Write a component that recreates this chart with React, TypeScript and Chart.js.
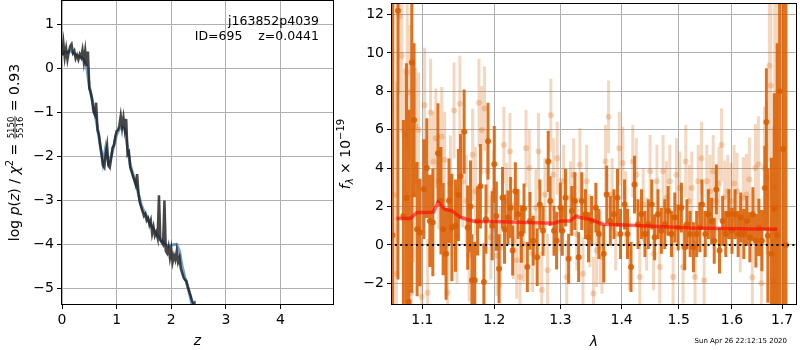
import React, { useEffect, useRef } from "react";
import { Chart, registerables } from "chart.js";
Chart.register(...registerables);

const FAM = "'DejaVu Sans', 'Liberation Sans', sans-serif";

// ---------- left panel: log p(z) ----------
const zGrid = [0,0.025,0.05,0.075,0.1,0.125,0.15,0.175,0.2,0.225,0.25,0.275,0.3,0.325,0.35,0.375,0.4,0.425,0.45,0.475,0.5,0.525,0.55,0.575,0.6,0.625,0.65,0.675,0.7,0.725,0.75,0.775,0.8,0.825,0.85,0.875,0.9,0.925,0.95,0.975,1,1.025,1.05,1.075,1.1,1.125,1.15,1.175,1.2,1.225,1.25,1.275,1.3,1.325,1.35,1.375,1.4,1.425,1.45,1.475,1.5,1.525,1.55,1.575,1.6,1.625,1.65,1.675,1.7,1.725,1.75,1.775,1.8,1.825,1.85,1.875,1.9,1.925,1.95,1.975,2,2.025,2.05,2.075,2.1,2.125,2.15,2.175,2.2,2.225,2.25,2.275,2.3,2.325,2.35,2.375,2.4,2.425,2.45];
const logPz = [
  0.30,0.58,0.25,0.45,0.20,0.38,0.50,0.55,0.35,0.40,
  0.22,0.30,0.20,0.32,0.25,0.42,0.15,0.40,0.05,0.38,
  -0.45,-0.55,-0.70,-0.98,-1.05,-0.78,-1.40,-1.50,-1.75,-1.95,
  -2.20,-2.25,-1.95,-1.75,-2.20,-2.25,-2.05,-1.80,-1.75,-1.55,
  -1.42,-1.40,-1.30,-1.08,-1.35,-1.12,-1.38,-1.15,-1.95,-1.90,
  -2.25,-2.35,-2.45,-2.55,-2.65,-2.40,-2.85,-3.05,-3.15,-3.25,
  -3.35,-3.30,-3.45,-3.40,-3.55,-3.45,-3.75,-3.60,-3.80,-3.72,
  -3.85,-2.88,-3.90,-3.95,-4.00,-3.00,-4.15,-4.20,-4.05,-4.30,
  -4.10,-4.40,-4.25,-4.35,-4.15,-4.40,-4.30,-4.55,-4.65,-4.75,
  -4.80,-4.82,-4.95,-5.05,-5.15,-5.25,-5.34,-5.32,-5.60
];
const zSmooth = [0,0.05,0.1,0.15,0.2,0.25,0.3,0.35,0.4,0.45,0.5,0.55,0.6,0.65,0.7,0.75,0.8,0.85,0.9,0.95,1,1.05,1.1,1.15,1.2,1.25,1.3,1.35,1.4,1.45,1.5,1.55,1.6,1.65,1.7,1.75,1.8,1.85,1.9,1.95,2,2.05,2.1,2.15,2.2,2.25,2.3,2.35,2.4,2.45];
const logPzSmooth = [
  0.30,0.38,0.36,0.40,0.36,0.30,0.28,0.25,0.20,0.05,
  -0.40,-0.70,-1.00,-1.35,-1.75,-2.15,-1.80,-2.15,-2.00,-1.75,
  -1.50,-1.38,-1.33,-1.38,-1.80,-2.20,-2.40,-2.60,-2.85,-3.10,
  -3.25,-3.35,-3.50,-3.60,-3.70,-3.80,-3.88,-3.95,-4.00,-4.05,
  -4.02,-4.00,-4.00,-4.15,-4.50,-4.75,-4.95,-5.20,-5.50,-5.80
];
const zTicks = [0, 1, 2, 3, 4];
const logPTicks = [-5, -4, -3, -2, -1, 0, 1];

// ---------- right panel: spectrum ----------
const lamBin = [
  1.061,1.068,1.075,1.079,1.082,1.086,1.089,1.093,1.097,1.102,
  1.106,1.110,1.114,1.121,1.125,1.128,1.132,1.136,1.140,1.145,
  1.149,1.152,1.157,1.162,1.166,1.168,1.172,1.176,1.180,1.185,
  1.188,1.191,1.197,1.200,1.203,1.207,1.212,1.215,1.220,1.224,
  1.227,1.231,1.235,1.240,1.244,1.249,1.253,1.258,1.264,1.268,
  1.273,1.281,1.284,1.290,1.294,1.300,1.303,1.308,1.313,1.318,
  1.323,1.329,1.334,1.340,1.345,1.350,1.357,1.362,1.370,1.375,
  1.381,1.387,1.393,1.398,1.405,1.410,1.416,1.422,1.428,1.434,
  1.440,1.446,1.452,1.457,1.463,1.469,1.475,1.481,1.487,1.493,
  1.499,1.505,1.511,1.515,1.521,1.527,1.533,1.539,1.543,1.549,
  1.555,1.561,1.566,1.570,1.576,1.582,1.588,1.594,1.600,1.606,
  1.612,1.617,1.623,1.629,1.635,1.641,1.647,1.653,1.659,1.665,
  1.668,1.671,1.678,1.684,1.690,1.695,1.702,1.708
];
const fluxBin = [
  0.5,12.2,1.5,2.46,-2.96,9.5,6.5,0.82,0.65,2.9,
  4.0,1.25,1.17,4.78,2.3,0.82,-0.46,2.3,0.9,1.0,
  2.6,3.58,5.9,0.9,2.0,-1.84,-1.84,1.25,3.05,-1.93,
  1.34,5.4,1.0,4.2,1.5,-1.24,2.46,0.82,1.43,1.94,
  -0.29,2.8,1.6,0.57,1.9,-1.15,1.25,0.22,-0.64,2.1,
  0.74,4.35,2.28,0.74,0.22,1.94,0.74,2.46,-0.72,1.77,
  2.28,-0.64,2.28,1.6,0.4,1.25,1.94,0.57,-0.46,2.63,
  1.25,1.6,2.46,0.57,2.1,0.57,-1.15,3.14,1.08,1.6,
  0.57,1.08,2.1,0.4,1.6,0.74,1.08,1.77,0.57,1.43,
  0.91,1.94,-0.12,1.08,0.57,-0.12,0.57,0.91,2.1,0.57,
  1.6,1.25,0.22,2.89,-0.29,1.25,0.57,1.6,0.74,1.6,
  0.57,1.43,0.57,1.25,0.4,1.6,0.22,0.91,0.22,2.97,
  6.4,0.48,-0.46,1.9,0.5,8,5,0
];
const errBin = [
  20,14,5,7,10,12,4,3.5,2.8,2.6,
  2.6,2.4,2.8,2.6,2.8,2.4,2.4,2.2,2.8,2.4,
  2.4,2.2,2.2,2.2,2.4,2.4,2,1.8,2.2,2,
  1.8,2,1.8,2,1.8,1.8,1.6,1.8,1.4,1.6,
  1.3,1.5,1.3,1.5,1.3,1.3,1.5,1.3,1.5,1.3,
  1.3,1.6,1.3,1.3,1.5,1.3,1.3,1.5,1.3,1.3,
  1.5,1.3,1.5,1.3,1.3,1.3,1.3,1.3,1.5,1.5,
  1.3,1.3,1.5,1.3,1.3,1.3,1.3,1.5,1.3,1.3,
  1.2,1.3,1.3,1.2,1.3,1.2,1.3,1.3,1.2,1.3,
  1.2,1.3,1.2,1.3,1.2,1.3,1.2,1.3,1.3,1.2,
  1.3,1.2,1.2,1.3,1.2,1.3,1.2,1.3,1.2,1.3,
  1.2,1.3,1.3,1.3,1.3,1.4,1.4,1.5,1.6,2.2,
  2.8,3.5,5,6,10,20,25,30
];
const lamExp = [
  1.063,1.066,1.070,1.073,1.077,1.080,1.083,1.085,1.088,1.091,
  1.095,1.099,1.103,1.107,1.111,1.115,1.118,1.122,1.126,1.130,
  1.134,1.138,1.143,1.147,1.151,1.155,1.160,1.164,1.169,1.173,
  1.178,1.182,1.186,1.190,1.195,1.199,1.204,1.209,1.214,1.218,
  1.223,1.228,1.233,1.238,1.243,1.247,1.252,1.257,1.262,1.266,
  1.271,1.276,1.280,1.285,1.289,1.295,1.299,1.305,1.310,1.316,
  1.321,1.326,1.331,1.336,1.342,1.347,1.353,1.358,1.364,1.367,
  1.373,1.378,1.384,1.390,1.396,1.402,1.407,1.413,1.419,1.425,
  1.431,1.437,1.443,1.449,1.455,1.461,1.466,1.472,1.478,1.484,
  1.490,1.496,1.502,1.508,1.513,1.519,1.524,1.530,1.536,1.542,
  1.547,1.552,1.558,1.564,1.570,1.575,1.580,1.586,1.592,1.598,
  1.604,1.610,1.616,1.622,1.628,1.634,1.640,1.646,1.652,1.658,
  1.664,1.669,1.674,1.677,1.681,1.685,1.690
];
const fluxExp = [
  2.6,-1.5,11.9,9.85,5.72,9.0,7.96,-2.5,2.6,6.2,
  5.98,-2.7,7.27,-2.5,6.9,4.35,5.55,3.3,5.63,4.43,
  -2.5,3.2,7.0,0.5,7.35,3.3,2.28,-0.55,4.7,2.8,
  7.4,5.98,7.1,3.83,0.4,2.8,-0.55,-0.12,5.2,2.28,
  4.87,0.22,-0.8,-1.67,0.05,5.03,4.0,-0.46,1.94,4.87,
  -2.35,2.63,-1.32,6.75,3.66,4.52,1.6,3.32,-1.67,2.46,
  3.66,0.57,4.18,-1.5,3.32,0.74,-2.53,-0.29,-0.12,-0.64,
  4.35,6.67,2.63,0.57,5.03,4.26,1.94,-0.46,4.35,3.66,
  -1.67,2.1,0.57,3.83,-0.46,3.32,-1.15,3.83,2.46,3.32,
  -1.67,3.66,2.97,-1.15,4.35,2.28,2.97,-1.67,3.32,4.52,
  -1.84,3.32,2.8,3.83,2.28,3.2,5.2,2.5,2.8,2.28,
  3.2,2.8,0.57,2.46,2.63,3.4,-1.7,4.0,4.2,-2.0,
  4.0,3.5,9.33,8.3,-1.84,3.0,2.0
];
const errExp = [
  15,10,4,4,3.5,4,3.5,4,3.5,3,
  3,3,3,2.8,2.8,2.6,2.6,2.5,2.6,2.5,
  2.6,2.5,2.5,2.5,2.5,2.4,2.4,2.4,2.4,2.3,
  2.3,2.3,2.2,2.2,2.2,2.1,2.1,2.1,2.0,2.0,
  2.0,2.0,2.0,2.0,2.0,2.0,2.0,2.0,2.0,2.0,
  2.0,1.9,1.9,1.9,1.9,1.9,1.9,1.9,1.9,1.9,
  1.9,1.9,1.9,1.9,1.9,1.9,1.9,1.9,1.9,1.9,
  1.9,1.9,1.9,1.9,1.9,1.9,1.9,1.9,1.9,1.9,
  1.9,1.9,1.9,1.9,1.9,1.9,1.9,1.9,1.9,1.9,
  1.9,1.9,1.9,1.9,1.9,1.9,1.9,1.9,1.9,1.9,
  1.9,1.9,1.9,1.9,1.9,1.9,1.9,1.9,1.9,2.0,
  2.0,2.0,2.0,2.1,2.1,2.2,2.2,2.3,2.5,2.7,
  3.2,4,5,6,8,12,15
];
const lamModel = [1.066,1.084,1.093,1.110,1.115,1.121,1.130,1.140,1.152,1.163,1.172,1.201,1.249,1.290,1.300,1.315,1.325,1.331,1.347,1.368,1.395,1.434,1.463,1.522,1.581,1.643,1.690];
const fluxModel = [1.37,1.37,1.69,1.69,1.72,2.23,1.86,1.77,1.43,1.31,1.22,1.22,1.17,1.13,1.24,1.24,1.5,1.43,1.34,1.08,1.05,1.0,0.96,0.88,0.86,0.83,0.81];
const lamZero = [1.064, 1.7289];
const lamTicks = [1.1, 1.2, 1.3, 1.4, 1.5, 1.6, 1.7];
const fluxTicks = [-2, 0, 2, 4, 6, 8, 10, 12];

const objName = "j163852p4039";
const objInfo = "ID=695    z=0.0441";
const timeStamp = "Sun Apr 26 22:12:15 2020";

// ---------- helpers ----------
const fmt = (v: number) => (v < 0 ? "\u2212" + Math.abs(v) : String(v));
const setTicks = (vals: number[]) => (scale: any) => {
  scale.ticks = vals.map((v) => ({ value: v }));
};
const errSeg = (lam: number[], f: number[], e: number[]) =>
  lam.flatMap((x, i) => [
    { x, y: f[i] - e[i] },
    { x, y: f[i] + e[i] },
    { x, y: null as any },
  ]);

type Part = { t?: string; font: string; dy?: number; num?: string; den?: string };

function partWidth(ctx: CanvasRenderingContext2D, p: Part) {
  ctx.font = p.font;
  if (p.num !== undefined) {
    return Math.max(ctx.measureText(p.num).width, ctx.measureText(p.den || "").width) + 2;
  }
  return ctx.measureText(p.t || "").width;
}

function drawRotatedRich(ctx: CanvasRenderingContext2D, parts: Part[], bx: number, cy: number) {
  const widths = parts.map((p) => partWidth(ctx, p));
  const total = widths.reduce((a, b) => a + b, 0);
  ctx.save();
  ctx.translate(bx, cy);
  ctx.rotate(-Math.PI / 2);
  ctx.fillStyle = "#000";
  ctx.textBaseline = "alphabetic";
  let x = -total / 2;
  parts.forEach((p, i) => {
    const w = widths[i];
    ctx.font = p.font;
    if (p.num !== undefined) {
      ctx.textAlign = "center";
      ctx.fillText(p.num, x + w / 2, -5);
      ctx.fillText(p.den || "", x + w / 2, 4.8);
      ctx.fillRect(x + 0.5, -3.9, w - 1, 0.8);
    } else {
      ctx.textAlign = "left";
      ctx.fillText(p.t || "", x, p.dy || 0);
    }
    x += w;
  });
  ctx.restore();
}

function drawFrame(chart: any) {
  const { ctx, chartArea: a } = chart;
  ctx.save();
  ctx.strokeStyle = "#000";
  ctx.lineWidth = 1;
  ctx.strokeRect(Math.round(a.left) - 0.5, Math.round(a.top) - 0.5, Math.round(a.right - a.left) + 1, Math.round(a.bottom - a.top) + 1);
  ctx.restore();
}

const gridOpts = { color: "#b0b0b0", lineWidth: 1, tickColor: "#000", tickLength: 5, tickWidth: 1 };
const tickFont = { family: FAM, size: 14 };
const fitX = (h: number) => (s: any) => { s.height = h; s.paddingLeft = 0; s.paddingRight = 0; };
const fitY = (w: number) => (s: any) => { s.width = w; s.paddingTop = 0; s.paddingBottom = 0; };

const leftDeco = {
  id: "leftDeco",
  afterDraw(chart: any) {
    const { ctx, chartArea: a } = chart;
    drawFrame(chart);
    ctx.save();
    ctx.fillStyle = "#000";
    ctx.font = `12.5px ${FAM}`;
    ctx.textAlign = "right";
    ctx.textBaseline = "alphabetic";
    ctx.fillText(objName, 319, 25);
    ctx.fillText(objInfo, 319, 39.5);
    ctx.font = `italic 14px ${FAM}`;
    ctx.textAlign = "center";
    ctx.fillText("z", (a.left + a.right) / 2, 345);
    ctx.restore();
    const n = `14px ${FAM}`;
    const it = `italic 14px ${FAM}`;
    drawRotatedRich(ctx, [
      { t: "log ", font: n },
      { t: "p", font: it },
      { t: "(", font: n },
      { t: "z", font: it },
      { t: ")", font: n },
      { t: " / ", font: n },
      { t: "\u03c7", font: it },
      { t: "2", font: `10px ${FAM}`, dy: -5.5 },
      { t: " = ", font: n },
      { num: "5150", den: "5516", font: `8.5px ${FAM}` },
      { t: " = 0.93", font: n },
    ], 18.5, (a.top + a.bottom) / 2);
  },
};

const rightDeco = {
  id: "rightDeco",
  afterDraw(chart: any) {
    const { ctx, chartArea: a } = chart;
    drawFrame(chart);
    ctx.save();
    ctx.fillStyle = "#000";
    ctx.font = `italic 14px ${FAM}`;
    ctx.textAlign = "center";
    ctx.textBaseline = "alphabetic";
    ctx.fillText("\u03bb", (a.left + a.right) / 2, 346);
    ctx.font = `7px ${FAM}`;
    ctx.textAlign = "right";
    ctx.fillText(timeStamp, 452, 343);
    ctx.restore();
    drawRotatedRich(ctx, [
      { t: "f", font: `italic 14px ${FAM}` },
      { t: "\u03bb", font: `italic 10px ${FAM}`, dy: 3 },
      { t: " \u00d7 10", font: `14px ${FAM}` },
      { t: "\u221219", font: `10px ${FAM}`, dy: -6 },
    ], 15, (a.top + a.bottom) / 2);
  },
};

const DARK = "rgba(217,95,2,0.88)";
const LIGHT = "rgba(217,95,2,0.25)";

export default function App() {
  const leftRef = useRef<HTMLCanvasElement>(null);
  const rightRef = useRef<HTMLCanvasElement>(null);

  useEffect(() => {
    const left = new Chart(leftRef.current as HTMLCanvasElement, {
      type: "line",
      data: {
        datasets: [
          {
            data: zGrid.map((z, i) => ({ x: z, y: logPz[i] })),
            borderColor: "rgba(25,25,25,0.8)",
            borderWidth: 2.5,
            pointRadius: 0,
            order: 0,
            clip: 0,
          } as any,
          {
            data: zSmooth.map((z, i) => ({ x: z, y: logPzSmooth[i] })),
            borderColor: "rgba(70,130,180,0.75)",
            borderWidth: 3,
            pointRadius: 0,
            order: 1,
            clip: 0,
          } as any,
        ],
      },
      options: {
        animation: false,
        responsive: false,
        devicePixelRatio: 1,
        events: [],
        layout: { padding: { left: 0, right: 7, top: 1, bottom: 0 } },
        plugins: { legend: { display: false }, tooltip: { enabled: false } },
        scales: {
          x: {
            type: "linear",
            min: 0,
            max: 4.96,
            afterBuildTicks: setTicks(zTicks),
            afterFit: fitX(46),
            grid: gridOpts,
            border: { display: false },
            ticks: { color: "#000", font: tickFont, padding: 3, maxRotation: 0, autoSkip: false, callback: (v: any) => fmt(Number(v)) },
          },
          y: {
            type: "linear",
            min: -5.35,
            max: 1.53,
            afterBuildTicks: setTicks(logPTicks),
            afterFit: fitY(62),
            grid: gridOpts,
            border: { display: false },
            ticks: { color: "#000", font: tickFont, padding: 3, autoSkip: false, callback: (v: any) => fmt(Number(v)) },
          },
        },
      } as any,
      plugins: [leftDeco],
    });

    const right = new Chart(rightRef.current as HTMLCanvasElement, {
      type: "line",
      data: {
        datasets: [
          {
            data: lamZero.map((x) => ({ x, y: 0 })),
            borderColor: "#000",
            borderWidth: 2,
            borderDash: [2, 3.3],
            pointRadius: 0,
            order: 0,
            clip: 0,
          } as any,
          {
            data: lamModel.map((x, i) => ({ x, y: fluxModel[i] })),
            borderColor: "rgba(255,0,0,0.6)",
            borderWidth: 3.5,
            pointRadius: 0,
            order: 1,
            clip: 0,
          } as any,
          {
            data: lamBin.map((x, i) => ({ x, y: fluxBin[i] })),
            showLine: false,
            pointRadius: 3,
            pointBackgroundColor: DARK,
            pointBorderWidth: 0,
            order: 2,
            clip: 0,
          } as any,
          {
            data: errSeg(lamBin, fluxBin, errBin),
            borderColor: DARK,
            borderWidth: 3,
            borderCapStyle: "butt",
            spanGaps: false,
            pointRadius: 0,
            order: 3,
            clip: 0,
          } as any,
          {
            data: lamExp.map((x, i) => ({ x, y: fluxExp[i] })),
            showLine: false,
            pointRadius: 3,
            pointBackgroundColor: LIGHT,
            pointBorderWidth: 0,
            order: 4,
            clip: 0,
          } as any,
          {
            data: errSeg(lamExp, fluxExp, errExp),
            borderColor: LIGHT,
            borderWidth: 3,
            borderCapStyle: "butt",
            spanGaps: false,
            pointRadius: 0,
            order: 5,
            clip: 0,
          } as any,
        ],
      },
      options: {
        animation: false,
        responsive: false,
        devicePixelRatio: 1,
        events: [],
        layout: { padding: { left: 0, right: 1, top: 1, bottom: 0 } },
        plugins: { legend: { display: false }, tooltip: { enabled: false } },
        scales: {
          x: {
            type: "logarithmic",
            min: 1.0603,
            max: 1.7289,
            afterBuildTicks: setTicks(lamTicks),
            afterFit: fitX(46),
            grid: gridOpts,
            border: { display: false },
            ticks: { color: "#000", font: tickFont, padding: 3, maxRotation: 0, autoSkip: false, callback: (v: any) => Number(v).toFixed(1) },
          },
          y: {
            type: "linear",
            min: -3.08,
            max: 12.55,
            afterBuildTicks: setTicks(fluxTicks),
            afterFit: fitY(57),
            grid: gridOpts,
            border: { display: false },
            ticks: { color: "#000", font: tickFont, padding: 3, autoSkip: false, callback: (v: any) => fmt(Number(v)) },
          },
        },
      } as any,
      plugins: [rightDeco],
    });

    return () => {
      left.destroy();
      right.destroy();
    };
  }, []);

  return (
    <div style={{ position: "fixed", left: 0, top: 0, width: 800, height: 350, background: "#fff" }}>
      <canvas ref={leftRef} width={340} height={350} style={{ position: "absolute", left: 0, top: 0, width: 340, height: 350 }} />
      <canvas ref={rightRef} width={465} height={350} style={{ position: "absolute", left: 335, top: 0, width: 465, height: 350 }} />
    </div>
  );
}
